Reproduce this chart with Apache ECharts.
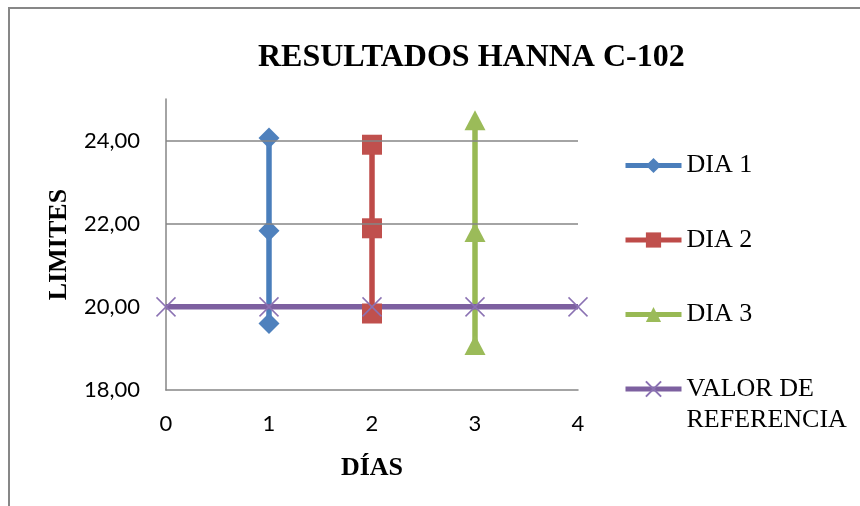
<!DOCTYPE html>
<html>
<head>
<meta charset="utf-8">
<script src="https://cdn.jsdelivr.net/npm/echarts@6/dist/echarts.min.js"></script>
<style>
    html, body { margin: 0; padding: 0; background: #fff; }
    #chart { width: 860px; height: 506px; }
</style>
</head>
<body>
<div id="chart"></div>
<script>
// datos
const dia1X = 1;
const dia1 = [19.60, 21.83, 24.06];
const dia2X = 2;
const dia2 = [19.84, 21.89, 23.90];
const dia3X = 3;
const dia3 = [19.08, 21.80, 24.49];
const refX = [0, 1, 2, 3, 4];
const refY = [20, 20, 20, 20, 20];
const gridLines = [22, 24];

const serif = 'Liberation Serif';
const sans = 'Lato';

const myChart = echarts.init(document.getElementById('chart'));

const legendText = { fontFamily: serif, fontSize: 26, lineHeight: 31, color: '#000' };

const options = {
    backgroundColor: '#fff',
    animation: false,
    title: {
        text: 'RESULTADOS HANNA C-102',
        left: 258,
        top: 42,
        padding: 0,
        textStyle: {
            fontFamily: serif,
            fontWeight: 'bold',
            fontSize: 32,
            color: '#000'
        }
    },
    grid: {
        left: 166,
        right: 282,
        top: 99,
        bottom: 116
    },
    legend: [
        {
            data: ['DIA 1', 'DIA 2', 'DIA 3'],
            orient: 'vertical',
            left: 623,
            top: 150,
            padding: 0,
            itemWidth: 56,
            itemHeight: 19,
            itemGap: 43.5,
            lineStyle: { width: 5 },
            textStyle: legendText
        },
        {
            data: ['VALOR DE REFERENCIA'],
            // linea vacia arriba para que "VALOR DE" quede a la altura del icono
            formatter: () => '\nVALOR DE\nREFERENCIA',
            orient: 'vertical',
            left: 623,
            top: 342.5,
            padding: 0,
            itemWidth: 56,
            itemHeight: 19,
            lineStyle: { width: 5 },
            textStyle: legendText
        }
    ],
    xAxis: {
        type: 'value',
        min: 0,
        max: 4,
        interval: 1,
        name: 'DÍAS',
        nameLocation: 'middle',
        nameGap: 65,
        nameTextStyle: { fontFamily: serif, fontWeight: 'bold', fontSize: 26, color: '#000' },
        axisLine: { show: true, lineStyle: { color: '#868686', width: 1.5 } },
        axisTick: { show: false },
        splitLine: { show: false },
        axisLabel: { color: '#000', fontFamily: sans, fontSize: 22, margin: 23 }
    },
    yAxis: {
        type: 'value',
        min: 18,
        max: 25,
        interval: 2,
        name: 'LIMITES',
        nameLocation: 'middle',
        nameGap: 94,
        nameTextStyle: { fontFamily: serif, fontWeight: 'bold', fontSize: 26, color: '#000' },
        axisLine: { show: true, lineStyle: { color: '#868686', width: 1.5 } },
        axisTick: { show: false },
        splitLine: { show: false },
        axisLabel: {
            color: '#000',
            fontFamily: sans,
            fontSize: 22,
            margin: 26,
            showMaxLabel: false,
            formatter: v => (v === 25 ? '' : v.toFixed(2).replace('.', ','))
        }
    },
    series: [
        {
            // lineas de division
            name: 'grid',
            type: 'line',
            data: [],
            z: 1,
            markLine: {
                silent: true,
                symbol: 'none',
                label: { show: false },
                lineStyle: { color: '#868686', width: 1.5, type: 'solid' },
                data: gridLines.map(v => ({ yAxis: v }))
            }
        },
        {
            name: 'DIA 1',
            type: 'line',
            data: dia1.map(v => [dia1X, v]),
            symbol: 'diamond',
            symbolSize: 21,
            lineStyle: { color: '#4A7EBB', width: 5.5 },
            itemStyle: { color: '#4F81BD', borderWidth: 0 }
        },
        {
            name: 'DIA 2',
            type: 'line',
            data: dia2.map(v => [dia2X, v]),
            symbol: 'rect',
            symbolSize: 20,
            lineStyle: { color: '#BE4B48', width: 5.5 },
            itemStyle: { color: '#C0504D', borderWidth: 0 }
        },
        {
            name: 'DIA 3',
            type: 'line',
            data: dia3.map(v => [dia3X, v]),
            symbol: 'triangle',
            symbolSize: [21, 20],
            lineStyle: { color: '#98B954', width: 5.5 },
            itemStyle: { color: '#9BBB59', borderWidth: 0 }
        },
        {
            name: 'VALOR DE REFERENCIA',
            type: 'line',
            z: 3,
            data: refX.map((x, i) => [x, refY[i]]),
            symbol: 'path://M0,0L10,10M10,0L0,10',
            symbolSize: 19,
            lineStyle: { color: '#7D60A0', width: 5.5 },
            itemStyle: { color: 'rgba(0,0,0,0)', borderColor: '#8B72B3', borderWidth: 1.5 }
        }
    ],
    graphic: [
        { type: 'line', shape: { x1: 9, y1: 8, x2: 9, y2: 506 }, style: { stroke: '#878787', lineWidth: 2 } },
        { type: 'line', shape: { x1: 8, y1: 8, x2: 860, y2: 8 }, style: { stroke: '#878787', lineWidth: 2 } }
    ]
};

myChart.setOption(options);
</script>
</body>
</html>
